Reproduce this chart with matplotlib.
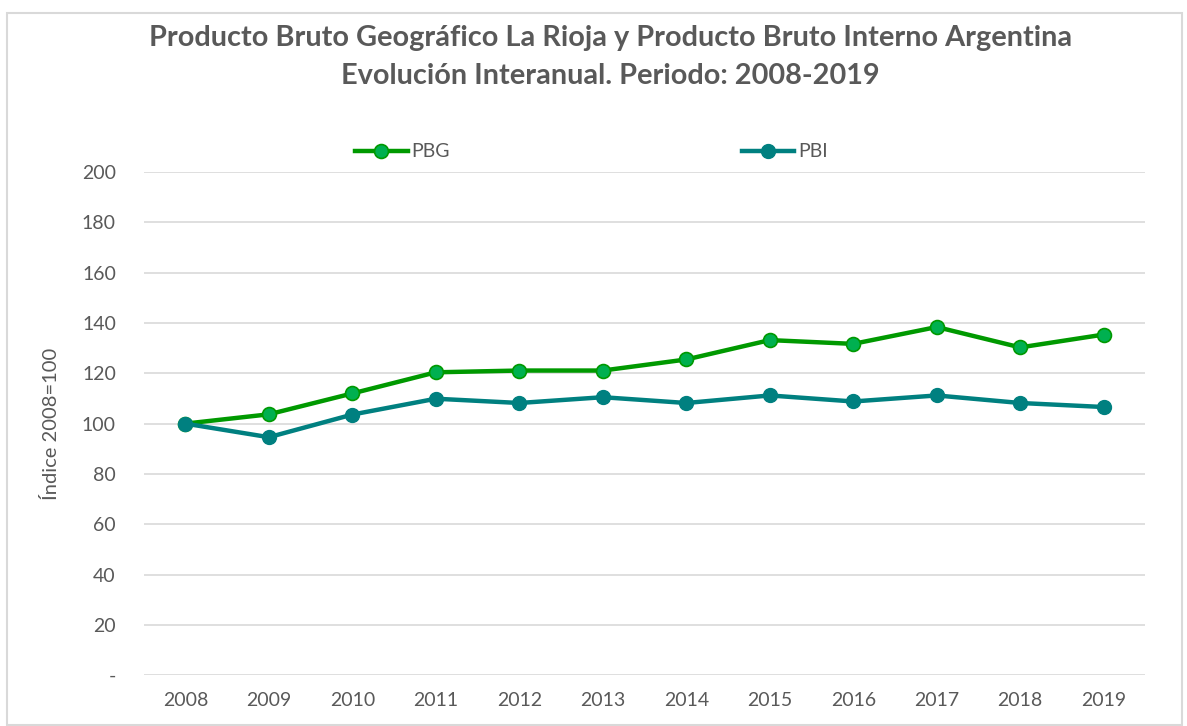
import matplotlib
matplotlib.use('Agg')
import matplotlib.pyplot as plt
from matplotlib.patches import Rectangle

years = ['2008', '2009', '2010', '2011', '2012', '2013', '2014', '2015', '2016', '2017', '2018', '2019']
pbg = [100, 103.7, 112.0, 120.4, 121.1, 121.1, 125.5, 133.2, 131.7, 138.4, 130.3, 135.4]
pbi = [100, 94.6, 103.6, 109.9, 108.2, 110.5, 108.2, 111.2, 108.8, 111.2, 108.2, 106.6]
yticks = [0, 20, 40, 60, 80, 100, 120, 140, 160, 180, 200]
ytick_labels = ['-', '20', '40', '60', '80', '100', '120', '140', '160', '180', '200']

plt.rcParams['font.family'] = ['Lato', 'DejaVu Sans']
gray = '#595959'

fig = plt.figure(figsize=(11.87, 7.26), dpi=100)
ax = fig.add_axes([0.121, 0.070, 0.844, 0.693])

x = range(len(years))
ax.plot(x, pbg, color='#009900', lw=3.2, marker='o', ms=10,
        markerfacecolor='#00B050', markeredgecolor='#009900', markeredgewidth=1.2, label='PBG', zorder=3)
ax.plot(x, pbi, color='#008080', lw=3.2, marker='o', ms=10,
        markerfacecolor='#008080', markeredgecolor='#008080', label='PBI', zorder=3)

ax.set_xlim(-0.5, len(years) - 0.5)
ax.set_ylim(0, 200)
ax.set_xticks(list(x))
ax.set_xticklabels(years)
ax.set_yticks(yticks)
ax.set_yticklabels(ytick_labels)
ax.grid(axis='y', color='#D9D9D9', lw=1.2)
ax.set_axisbelow(True)
for s in ax.spines.values():
    s.set_visible(False)
ax.tick_params(length=0, labelsize=14, colors=gray, pad=12)
ax.tick_params(axis='y', pad=20)
ax.set_ylabel('Índice 2008=100', fontsize=14.5, color=gray, labelpad=16)

fig.text(0.514, 0.948, 'Producto Bruto Geográfico La Rioja y Producto Bruto Interno Argentina',
         ha='center', va='center', fontsize=20.8, fontweight='bold', color=gray)
fig.text(0.514, 0.895, 'Evolución Interanual. Periodo: 2008-2019',
         ha='center', va='center', fontsize=20.8, fontweight='bold', color=gray)

ax.legend(loc='center', bbox_to_anchor=(0.447, 1.04), ncol=2, frameon=False,
          fontsize=14, labelcolor=gray, columnspacing=15, handlelength=2.7, handletextpad=0.2)

fig.patches.append(Rectangle((0.006, 0.002), 0.99, 0.98, transform=fig.transFigure,
                             fill=False, edgecolor='#D9D9D9', lw=1.5))

fig.savefig('out.png', dpi=100)
